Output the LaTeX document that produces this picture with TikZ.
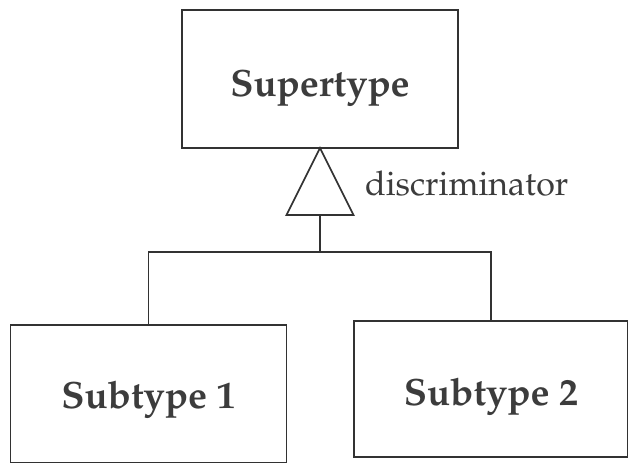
\documentclass[tikz,border=0pt]{standalone}
\usepackage[T1]{fontenc}
\usepackage{mathpazo}
\usepackage{xcolor}
\usepackage{tikz}
\usetikzlibrary{positioning, shapes.geometric, calc}
\definecolor{umlInk}{RGB}{50, 50, 50}
\definecolor{umlText}{RGB}{60, 60, 60}
\tikzset{
    base/.style={
        align=center,
        inner sep=0pt,
        outer sep=0pt
    },
    entity/.style={
        base,
        rectangle,
        draw=umlInk,
        line width=0.8pt,
        text=umlText,
        font=\fontsize{19}{21}\selectfont\bfseries,
        minimum width=138pt,
        minimum height=69pt
    },
    generalize/.style={
        base,
        isosceles triangle,
        isosceles triangle stretches,
        shape border rotate=90,
        draw=umlInk,
        line width=0.8pt,
        minimum width=33.5pt,
        minimum height=33.5pt
    },
    link/.style={
        draw=umlInk,
        line width=0.8pt
    },
    note/.style={
        base,
        text=umlText,
        font=\fontsize{17}{19}\selectfont
    }
}

\begin{document}
\begin{tikzpicture}[x=0.5pt, y=-0.5pt]
  \useasboundingbox (0,0) rectangle (628,462);

  \node[entity, text height=17pt, text depth=0pt] (super) at (320,79) {Supertype};
  \node[generalize, anchor=apex] (gen) at (super.south) {};
  \node[note, anchor=base west] (disc) at (365,195) {discriminator};

  \node[entity, text height=14pt, text depth=0pt] (sub1) at (148.5,394) {Subtype 1};
  \node[entity, text height=16pt, text depth=0pt, minimum width=137pt, minimum height=68pt] (sub2) at (491,389) {Subtype 2};

  \coordinate (junction) at (320,252);
  \draw[link] (gen.south) -- (junction);
  \draw[link] (sub1.north) |- (junction) -| (sub2.north);
\end{tikzpicture}
\end{document}
